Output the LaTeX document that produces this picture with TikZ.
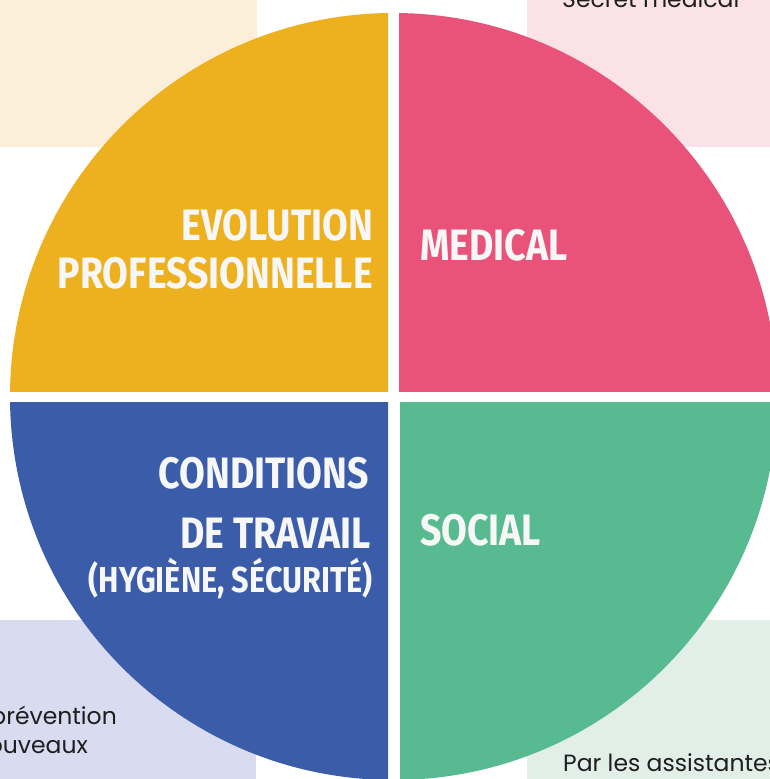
\documentclass[tikz,border=0pt]{standalone}
\usepackage{fontspec}
\setmainfont{Poppins}
\newfontfamily\titlefont{Fira Sans}[FakeStretch=0.85]
\definecolor{evoyellow}{HTML}{EDB120}
\definecolor{medpink}{HTML}{E9537A}
\definecolor{condblue}{HTML}{3B5DA9}
\definecolor{socgreen}{HTML}{57BA91}
\definecolor{bgpeach}{HTML}{FBEFDA}
\definecolor{bgpink}{HTML}{FBE2E6}
\definecolor{bglav}{HTML}{D9DBF0}
\definecolor{bggreen}{HTML}{E2EFE9}
\definecolor{textdark}{HTML}{1E1E1E}
\definecolor{titlewhite}{HTML}{F7F7F7}
\tikzset{
  title/.style={text=titlewhite,inner sep=0pt,font=\titlefont\bfseries\fontsize{44}{48}\selectfont},
  subtitle/.style={title,font=\titlefont\bfseries\fontsize{36}{40}\selectfont},
  note/.style={text=textdark,inner sep=0pt,font=\fontsize{23.5}{29}\selectfont}
}
\begin{document}
\begin{tikzpicture}[x=1pt,y=-1pt]
      \useasboundingbox (0,0) rectangle (770,779);
      % background cards
      \fill[bgpeach] (0,0) rectangle (257,147);
      \fill[bgpink] (527,0) rectangle (770,147);
      \fill[bglav] (0,620) rectangle (256,779);
      \fill[bggreen] (527,620) rectangle (770,779);
      \node[note,anchor=base west] (secret) at (562,7) {Secret médical};
      \node[note,anchor=base east] (prev) at (117,724) {prévention};
      \node[note,anchor=base east] (nouv) at (88,753) {ouveaux};
      \node[note,anchor=base west] (assist) at (563,771) {Par les assistantes};
      % quadrants
      \coordinate (c) at (393.5,396.5);
      \begin{scope}
        \clip (0,0) rectangle (388,391);
        \fill[evoyellow] (c) circle (383.5);
      \end{scope}
      \begin{scope}
        \clip (399,0) rectangle (770,391);
        \fill[medpink] (c) circle (383.5);
      \end{scope}
      \begin{scope}
        \clip (0,402) rectangle (388,779);
        \fill[condblue] (c) circle (383.5);
      \end{scope}
      \begin{scope}
        \clip (400,402) rectangle (770,779);
        \fill[socgreen] (c) circle (383.5);
      \end{scope}
      % labels
      \node[title,anchor=base east] (evo1) at (373,240) {EVOLUTION};
      \node[title,anchor=base east] (evo2) at (373,288) {PROFESSIONNELLE};
      \node[title,anchor=base west] (med) at (420,260) {MEDICAL};
      \node[title,anchor=base east] (cond1) at (369,488) {CONDITIONS};
      \node[title,anchor=base east] (cond2) at (371,548) {DE TRAVAIL};
      \node[subtitle,anchor=base east] (cond3) at (373,592) {(HYGIÈNE, SÉCURITÉ)};
      \node[title,anchor=base west] (soc) at (420,545) {SOCIAL};
\end{tikzpicture}
\end{document}
